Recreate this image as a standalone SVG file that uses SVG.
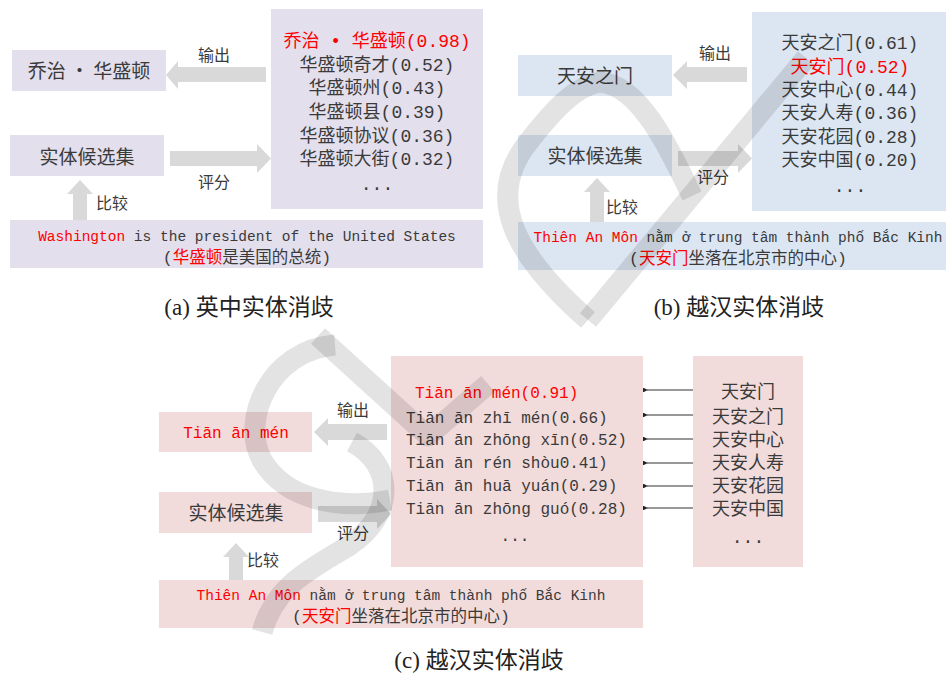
<svg xmlns="http://www.w3.org/2000/svg" width="946" height="675" viewBox="0 0 946 675">
<style>
.pa{fill:#E4DFEC}.pb{fill:#DCE6F2}.pc{fill:#F2DCDB}
.arr{fill:#D9D9D9}
.lb{font-family:"Noto Sans CJK SC",sans-serif;font-size:16px;fill:#3A3A3A;text-anchor:middle}
.bx{font-family:"Noto Sans CJK SC",sans-serif;font-size:19px;fill:#3A3A3A;text-anchor:middle}
.cl{font-family:"Liberation Mono","Noto Sans CJK SC",monospace;font-size:18px;fill:#3A3A3A;text-anchor:middle}
.cap{font-family:"Liberation Serif","Noto Sans CJK SC",serif;font-size:23px;fill:#222;text-anchor:middle}
.sm{font-family:"Liberation Mono","Noto Sans CJK SC",monospace;font-size:14.5px;fill:#3A3A3A;text-anchor:middle}
.sc{font-family:"Liberation Mono","Noto Sans CJK SC",monospace;font-size:16.5px;fill:#3A3A3A;text-anchor:middle}
.pl{font-family:"Liberation Mono",monospace;font-size:16px;fill:#3A3A3A}
.red{fill:#FF0000}
.wm{fill:none;stroke:#000;stroke-opacity:0.11;stroke-width:21;stroke-linejoin:round}
</style>
<defs>
<marker id="ah" viewBox="0 0 6 6" refX="1" refY="3" markerWidth="4" markerHeight="4" orient="auto-start-reverse">
<path d="M0,3 L6,0 L6,6 Z" fill="#222"/>
</marker>
</defs>
<rect width="946" height="675" fill="#fff"/>

<!-- Panel (a) -->
<g id="a-output">
<rect class="pa" x="12" y="50" width="154" height="41"/>
<text class="bx" x="89" y="78">乔治 • 华盛顿</text>
</g>
<g id="a-candidates">
<rect class="pa" x="10" y="135" width="154" height="41"/>
<text class="bx" x="87" y="164">实体候选集</text>
</g>
<g id="a-scores">
<rect class="pa" x="271" y="9" width="212" height="200"/>
<text class="cl red" x="377" y="47">乔治 • 华盛顿(0.98)</text>
<text class="cl" x="377" y="71">华盛顿奇才(0.52)</text>
<text class="cl" x="377" y="94">华盛顿州(0.43)</text>
<text class="cl" x="377" y="118">华盛顿县(0.39)</text>
<text class="cl" x="377" y="142">华盛顿协议(0.36)</text>
<text class="cl" x="377" y="165">华盛顿大街(0.32)</text>
<text class="cl" x="377" y="190">...</text>
</g>
<g id="a-sentence">
<rect class="pa" x="10" y="220" width="473" height="48"/>
<text class="sm" x="247" y="241"><tspan class="red">Washington</tspan> is the president of the United States</text>
<text class="sc" x="247" y="263">(<tspan class="red">华盛顿</tspan>是美国的总统)</text>
</g>
<text class="cap" x="249" y="315">(a) 英中实体消歧</text>

<!-- Panel (b) -->
<g id="b-output">
<rect class="pb" x="518" y="55" width="154" height="41"/>
<text class="bx" x="595" y="83">天安之门</text>
</g>
<g id="b-candidates">
<rect class="pb" x="518" y="135" width="154" height="41"/>
<text class="bx" x="595" y="163">实体候选集</text>
</g>
<g id="b-scores">
<rect class="pb" x="752" y="12" width="194" height="199"/>
<text class="cl" x="850" y="49">天安之门(0.61)</text>
<text class="cl red" x="850" y="73">天安门(0.52)</text>
<text class="cl" x="850" y="96">天安中心(0.44)</text>
<text class="cl" x="850" y="119">天安人寿(0.36)</text>
<text class="cl" x="850" y="143">天安花园(0.28)</text>
<text class="cl" x="850" y="166">天安中国(0.20)</text>
<text class="cl" x="850" y="192">...</text>
</g>
<g id="b-sentence">
<rect class="pb" x="518" y="222" width="428" height="48"/>
<text class="sm" x="738" y="242"><tspan class="red">Thiên An Môn</tspan> nằm ở trung tâm thành phố Bắc Kinh</text>
<text class="sc" x="738" y="264">(<tspan class="red">天安门</tspan>坐落在北京市的中心)</text>
</g>
<text class="cap" x="739" y="315">(b) 越汉实体消歧</text>

<!-- Panel (c) -->
<g id="c-output">
<rect class="pc" x="159" y="412" width="153" height="40"/>
<text class="pl red" x="236" y="438" text-anchor="middle">Tiān ān mén</text>
</g>
<g id="c-candidates">
<rect class="pc" x="159" y="492" width="153" height="41"/>
<text class="bx" x="236" y="520">实体候选集</text>
</g>
<g id="c-scores">
<rect class="pc" x="391" y="356" width="252" height="211"/>
<text class="pl red" x="415" y="398">Tiān ān mén(0.91)</text>
<text class="pl" x="406" y="423">Tiān ān zhī mén(0.66)</text>
<text class="pl" x="406" y="445">Tiān ān zhōng xīn(0.52)</text>
<text class="pl" x="406" y="468">Tiān ān rén shòu0.41)</text>
<text class="pl" x="406" y="491">Tiān ān huā yuán(0.29)</text>
<text class="pl" x="406" y="514">Tiān ān zhōng guó(0.28)</text>
<text class="pl" x="515" y="541" text-anchor="middle">...</text>
</g>
<g id="c-chinese">
<rect class="pc" x="693" y="356" width="110" height="211"/>
<text class="cl" x="748" y="398">天安门</text>
<text class="cl" x="748" y="423">天安之门</text>
<text class="cl" x="748" y="446">天安中心</text>
<text class="cl" x="748" y="469">天安人寿</text>
<text class="cl" x="748" y="492">天安花园</text>
<text class="cl" x="748" y="515">天安中国</text>
<text class="cl" x="748" y="543">...</text>
</g>
<g id="c-sentence">
<rect class="pc" x="159" y="580" width="484" height="48"/>
<text class="sm" x="401" y="600"><tspan class="red">Thiên An Môn</tspan> nằm ở trung tâm thành phố Bắc Kinh</text>
<text class="sc" x="401" y="622">(<tspan class="red">天安门</tspan>坐落在北京市的中心)</text>
</g>
<text class="cap" x="479" y="668">(c) 越汉实体消歧</text>

<!-- Connectors -->
<g id="connectors">
<path class="arr" d="M166,75 L178,61 L178,67 L266,67 L266,82 L178,82 L178,89 Z"/>
<path class="arr" d="M170,151 L257,151 L257,144 L271,158.5 L257,173 L257,166 L170,166 Z"/>
<path class="arr" d="M80,180 L93,194 L87,194 L87,220 L73,220 L73,194 L67,194 Z"/>
<text class="lb" x="214" y="61">输出</text>
<text class="lb" x="214" y="188">评分</text>
<text class="lb" x="112" y="209">比较</text>

<path class="arr" d="M673,75 L687,61 L687,67 L747,67 L747,82 L687,82 L687,89 Z"/>
<path class="arr" d="M678,151 L738,151 L738,144 L752,158.5 L738,173 L738,166 L678,166 Z"/>
<path class="arr" d="M597,178 L610,192 L604,192 L604,222 L590,222 L590,192 L584,192 Z"/>
<text class="lb" x="715" y="59">输出</text>
<text class="lb" x="713" y="183">评分</text>
<text class="lb" x="622" y="213">比较</text>

<path class="arr" d="M314,432 L328,418 L328,424 L387,424 L387,440 L328,440 L328,446 Z"/>
<path class="arr" d="M318,506 L377,506 L377,499 L391,514 L377,529 L377,522 L318,522 Z"/>
<path class="arr" d="M236,543 L249,557 L243,557 L243,580 L229,580 L229,557 L223,557 Z"/>
<text class="lb" x="353" y="416">输出</text>
<text class="lb" x="353" y="539">评分</text>
<text class="lb" x="263" y="566">比较</text>

<g stroke="#333" stroke-width="1.2" marker-end="url(#ah)">
<line x1="693" y1="390" x2="647" y2="390"/>
<line x1="693" y1="415" x2="647" y2="415"/>
<line x1="693" y1="439" x2="647" y2="439"/>
<line x1="693" y1="463" x2="647" y2="463"/>
<line x1="693" y1="486" x2="647" y2="486"/>
<line x1="693" y1="508" x2="647" y2="508"/>
</g>
</g>

<!-- Watermark -->
<g id="watermark">
<path class="wm" d="M806,58 L588,320"/>
<path class="wm" d="M588,320 C520,260 480,200 530,140 C552,112 575,86 600,82 C640,85 670,150 692,196"/>
<path class="wm" d="M318,336 L428,436 L488,384"/>
<path class="wm" d="M335,345 C270,350 240,420 262,460 C285,500 340,510 390,500"/>
<path class="wm" d="M352,442 C395,465 395,515 350,545 C310,570 275,585 262,632"/>
</g>
</svg>
